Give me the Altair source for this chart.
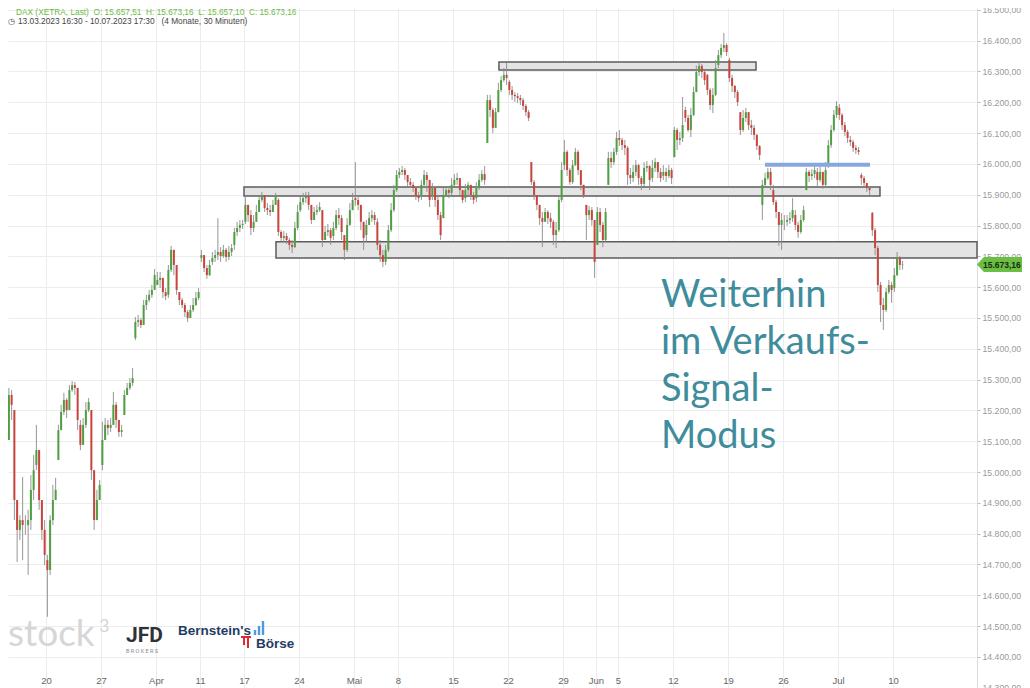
import altair as alt
import pandas as pd

# ---------------- axis values ----------------
tick_days = [5, 10, 15, 19, 23, 28, 33, 37, 42, 47, 52, 55, 57, 62, 67, 72, 77, 82]
tick_labels = ["20", "27", "Apr", "11", "17", "24", "Mai", "8", "15", "22", "29",
               "Jun", "5", "12", "19", "26", "Jul", "10"]
price_ticks = list(range(14300, 16600, 100))

# ---------------- price data (trading-day index 0 = 13.03.2023) ----------------
day_opens = [14990, 15006, 15201, 14828, 15023, 14714, 15039, 15201, 15153, 15201,
             15023, 15153, 15185, 15435, 15542, 15607, 15575, 15584, 15500, 15695,
             15682, 15701, 15737, 15812, 15812, 15857, 15883, 15753, 15850, 15867,
             15850, 15766, 15769, 15889, 15769, 15812, 15721, 15964, 15941, 15896,
             15899, 15824, 15932, 15889, 15889, 16068, 16168, 16266, 16214, 16006,
             15824, 15812, 15996, 15996, 15867, 15737, 15932, 16084, 15964, 15954,
             15954, 15961, 16022, 16175, 16233, 16289, 16321, 16337, 16168, 16126,
             15867, 15915, 15812, 15834, 15915, 15974, 15996, 16182, 16078, 15964,
             15841, 15542, 15597]

closes = [
    [15006],
    [15006, 15104, 15250, 15218], [14909, 14812, 14844, 14828], [14828, 14844, 14942, 15006],
    [15071, 14909, 14812, 14731], [14682, 14844, 14909, 14942], [15136, 15195, 15234, 15201],
    [15266, 15282, 15273, 15169], [15088, 15153, 15201, 15227], [15006, 14844, 14909, 14958],
    [15104, 15153, 15143, 15153], [15218, 15169, 15130, 15136], [15250, 15273, 15289, 15305],
    [15487, 15493, 15477, 15542], [15558, 15575, 15591, 15639], [15623, 15630, 15584, 15571],
    [15656, 15721, 15672, 15591], [15558, 15542, 15519, 15500], [15526, 15542, 15565, 15584],
    [15704, 15662, 15639, 15672], [15695, 15704, 15714, 15701], [15721, 15698, 15714, 15727],
    [15779, 15792, 15802, 15805], [15867, 15834, 15792, 15812], [15844, 15883, 15899, 15857],
    [15850, 15844, 15867, 15896], [15779, 15760, 15766, 15753], [15737, 15730, 15792, 15844],
    [15876, 15889, 15896, 15867], [15818, 15844, 15850, 15860], [15753, 15779, 15785, 15760],
    [15792, 15834, 15824, 15779], [15721, 15802, 15850, 15883], [15883, 15867, 15812, 15760],
    [15802, 15824, 15834, 15818], [15737, 15704, 15682, 15721], [15785, 15850, 15915, 15964],
    [15974, 15980, 15964, 15941], [15932, 15922, 15896, 15889], [15932, 15964, 15948, 15883],
    [15922, 15883, 15834, 15769], [15899, 15915, 15906, 15932], [15948, 15954, 15915, 15883],
    [15915, 15932, 15899, 15883], [15922, 15948, 15967, 15948], [16207, 16175, 16117, 16168],
    [16240, 16272, 16289, 16279], [16240, 16224, 16220, 16214], [16207, 16188, 16168, 16149],
    [15941, 15899, 15867, 15824], [15812, 15844, 15824, 15812], [15769, 15785, 15883, 15980],
    [16039, 15980, 15941, 15996], [16039, 15980, 15932, 15899], [15834, 15850, 15818, 15682],
    [15844, 15802, 15753, 15844], [16019, 16006, 16039, 16084], [16078, 16061, 16052, 15964],
    [15954, 15974, 15996, 15954], [15935, 15987, 15993, 15948], [15987, 16006, 15974, 15954],
    [15974, 15961, 15980, 15954], [16110, 16078, 16084, 16126], [16149, 16110, 16159, 16233],
    [16298, 16318, 16298, 16272], [16240, 16191, 16224, 16311], [16353, 16376, 16386, 16363],
    [16279, 16253, 16233, 16201], [16110, 16149, 16168, 16126], [16117, 16094, 16058, 16029],
    [15932, 15954, 15974, 15932], [15876, 15844, 15802, 15818], [15812, 15818, 15824, 15850],
    [15802, 15779, 15818, 15850], [15974, 15961, 15967, 15980], [15948, 15974, 15932, 15980],
    [16061, 16110, 16159, 16188], [16159, 16126, 16104, 16084], [16071, 16052, 16045, 16039],
    [15954, 15938, 15922, 15915], [15785, 15727, 15607, 15542], [15526, 15584, 15607, 15591],
    [15639, 15695, 15672, 15673.16],
]

highs = [
    [15023],
    [15055, 15120, 15273, 15266], [15201, 14877, 14860, 14984], [14860, 14877, 14990, 15055],
    [15153, 15071, 14909, 14844], [14731, 14860, 14958, 14981], [15153, 15218, 15257, 15240],
    [15282, 15295, 15292, 15266], [15169, 15175, 15227, 15240], [15201, 14942, 14942, 14974],
    [15163, 15175, 15169, 15175], [15260, 15227, 15163, 15153], [15266, 15289, 15305, 15338],
    [15503, 15510, 15500, 15558], [15575, 15591, 15607, 15659], [15649, 15649, 15623, 15597],
    [15672, 15734, 15721, 15672], [15584, 15565, 15549, 15526], [15542, 15565, 15584, 15597],
    [15721, 15704, 15672, 15688], [15714, 15721, 15824, 15730], [15737, 15727, 15734, 15740],
    [15792, 15812, 15818, 15818], [15893, 15867, 15850, 15834], [15867, 15896, 15909, 15899],
    [15873, 15867, 15883, 15906], [15889, 15785, 15782, 15776], [15760, 15753, 15812, 15867],
    [15893, 15906, 15909, 15909], [15867, 15860, 15867, 15876], [15844, 15799, 15805, 15792],
    [15812, 15850, 15857, 15834], [15769, 15824, 15873, 15906], [16006, 15893, 15867, 15802],
    [15818, 15844, 15850, 15844], [15824, 15753, 15721, 15737], [15802, 15873, 15932, 15980],
    [15987, 15993, 15987, 15964], [15954, 15941, 15922, 15909], [15948, 15980, 15974, 15948],
    [15938, 15928, 15899, 15844], [15922, 15928, 15925, 15954], [15967, 15971, 15954, 15915],
    [15935, 15941, 15932, 15909], [15941, 15967, 15980, 15993], [16224, 16224, 16182, 16182],
    [16263, 16285, 16311, 16328], [16272, 16253, 16233, 16230], [16224, 16214, 16194, 16175],
    [16006, 15948, 15899, 15867], [15844, 15857, 15850, 15841], [15818, 15812, 15896, 16006],
    [16078, 16045, 15987, 16013], [16052, 16045, 15980, 15932], [15867, 15864, 15860, 15812],
    [15860, 15857, 15812, 15857], [16039, 16039, 16052, 16104], [16110, 16084, 16078, 16058],
    [15987, 15996, 16013, 16000], [15961, 16006, 16009, 15996], [16013, 16019, 16006, 15987],
    [15996, 15987, 15996, 15987], [16120, 16117, 16104, 16217], [16185, 16159, 16182, 16250],
    [16319, 16334, 16324, 16305], [16292, 16246, 16246, 16337], [16370, 16389, 16425, 16392],
    [16344, 16289, 16256, 16240], [16168, 16175, 16182, 16168], [16143, 16126, 16097, 16061],
    [15948, 15971, 15987, 15987], [15932, 15883, 15844, 15841], [15834, 15834, 15844, 15889],
    [15850, 15812, 15834, 15864], [15987, 15980, 15983, 15993], [15987, 15993, 15974, 16006],
    [16078, 16126, 16175, 16204], [16194, 16165, 16136, 16110], [16091, 16078, 16061, 16055],
    [15971, 15961, 15938, 15928], [15844, 15792, 15734, 15617], [15565, 15597, 15623, 15617],
    [15662, 15714, 15701, 15685],
]

lows = [
    [14974],
    [14958, 15006, 15104, 15169], [14844, 14708, 14779, 14714], [14796, 14666, 14812, 14909],
    [15006, 14877, 14779, 14698], [14530, 14666, 14828, 14909], [15039, 15153, 15185, 15175],
    [15218, 15260, 15250, 15136], [15071, 15104, 15143, 15195], [14974, 14812, 14860, 14909],
    [15006, 15104, 15120, 15130], [15153, 15143, 15114, 15114], [15185, 15250, 15266, 15279],
    [15428, 15471, 15467, 15477], [15526, 15552, 15565, 15591], [15607, 15597, 15565, 15558],
    [15565, 15649, 15639, 15575], [15542, 15532, 15503, 15487], [15500, 15519, 15539, 15558],
    [15682, 15649, 15627, 15636], [15672, 15682, 15688, 15682], [15695, 15682, 15688, 15701],
    [15721, 15766, 15779, 15789], [15805, 15812, 15769, 15779], [15812, 15850, 15876, 15844],
    [15834, 15831, 15844, 15867], [15766, 15747, 15747, 15740], [15721, 15711, 15727, 15785],
    [15844, 15867, 15873, 15850], [15805, 15818, 15834, 15844], [15730, 15753, 15766, 15737],
    [15753, 15785, 15802, 15753], [15688, 15714, 15799, 15850], [15864, 15850, 15785, 15721],
    [15747, 15802, 15812, 15802], [15721, 15682, 15665, 15672], [15714, 15779, 15844, 15909],
    [15954, 15964, 15948, 15928], [15922, 15909, 15883, 15876], [15883, 15928, 15909, 15860],
    [15883, 15860, 15818, 15753], [15824, 15893, 15889, 15899], [15928, 15932, 15899, 15873],
    [15876, 15899, 15883, 15870], [15876, 15915, 15941, 15932], [16068, 16152, 16100, 16117],
    [16168, 16233, 16266, 16256], [16224, 16207, 16201, 16198], [16191, 16175, 16155, 16139],
    [15932, 15883, 15850, 15802], [15730, 15812, 15805, 15792], [15737, 15727, 15779, 15876],
    [15980, 15961, 15932, 15935], [15993, 15964, 15915, 15889], [15753, 15818, 15799, 15630],
    [15737, 15779, 15730, 15747], [15932, 15987, 15996, 16029], [16058, 16045, 16029, 15932],
    [15935, 15941, 15961, 15932], [15915, 15928, 15974, 15915], [15941, 15974, 15954, 15941],
    [15948, 15941, 15954, 15935], [16022, 16045, 16061, 16071], [16136, 16104, 16087, 16155],
    [16233, 16285, 16279, 16256], [16224, 16175, 16165, 16220], [16311, 16344, 16363, 16350],
    [16266, 16233, 16214, 16188], [16094, 16104, 16136, 16110], [16094, 16078, 16045, 16013],
    [15818, 15922, 15948, 15915], [15867, 15824, 15734, 15721], [15785, 15799, 15805, 15812],
    [15785, 15760, 15773, 15812], [15915, 15941, 15948, 15954], [15928, 15941, 15919, 15922],
    [15987, 16052, 16104, 16149], [16143, 16110, 16091, 16068], [16058, 16039, 16032, 16029],
    [15932, 15922, 15909, 15899], [15766, 15704, 15584, 15487], [15461, 15519, 15578, 15549],
    [15584, 15636, 15656, 15657],
]

# ---------------- drawn annotations (in data units) ----------------
box_t1 = [46.18, 23.0, 25.91]
box_t2 = [69.55, 80.82, 89.64]
box_top = [16331, 15925, 15747]
box_bottom = [16305, 15896, 15695]
signal_t = [70.36, 79.91]
signal_price = 15997
last_price = 15673.16

X_DOMAIN = [1.545, 89.64]
Y_DOMAIN = [14299, 16506]
W, H = 969, 680

# ---------------- build tables ----------------
rows = []
for d in range(len(day_opens)):
    n = len(closes[d])
    prev = day_opens[d]
    for k in range(n):
        t = 0.94 if d == 0 else d + (k + 0.5) / n
        c = closes[d][k]
        h = max(highs[d][k], prev, c)
        lo = min(lows[d][k], prev, c)
        rows.append({"t": t, "open": prev, "close": c, "high": h, "low": lo,
                     "dir": "up" if c >= prev else "down"})
        prev = c
candles = pd.DataFrame(rows)

boxes = pd.DataFrame({"t1": box_t1, "t2": box_t2, "top": box_top, "bottom": box_bottom})
signal = pd.DataFrame({"t1": [signal_t[0]], "t2": [signal_t[1]], "p": [signal_price]})


def de(v):
    s = f"{v:,.2f}"
    return s.replace(",", "#").replace(".", ",").replace("#", ".")


tag = pd.DataFrame({"p": [last_price], "label": [de(last_price)]})

x_expr = " : ".join(f"datum.value == {d} ? '{l}'" for d, l in zip(tick_days, tick_labels)) + " : ''"
y_expr = ("replace(replace(replace(format(datum.value, ',.2f'), ',', '#'), '.', ','), '#', '.')")

xs = alt.Scale(domain=X_DOMAIN, nice=False, zero=False)
ys = alt.Scale(domain=Y_DOMAIN, nice=False, zero=False)

x_axis = alt.Axis(values=tick_days, labelExpr=x_expr, grid=True, gridColor="#ececec",
                  domain=False, ticks=False, tickSize=0, labelPadding=-13,
                  labelColor="#666666", labelFontSize=9.5, labelFont="Liberation Sans",
                  labelFlush=False, labelOverlap=False, title=None)
y_axis = alt.Axis(orient="right", values=price_ticks, labelExpr=y_expr, grid=True,
                  gridColor="#ececec", domainColor="#dcdcdc", tickColor="#b8b8b8",
                  tickSize=3, labelPadding=2, labelColor="#9a9a9a", labelFontSize=8.7,
                  labelFont="Liberation Sans", labelOverlap=False, title=None)


def X(field):
    return alt.X(field, scale=xs, axis=x_axis, title=None)


def Y(field):
    return alt.Y(field, scale=ys, axis=y_axis, title=None)


box_layer = alt.Chart(boxes).mark_rect(fill="#e4e4e4", stroke="#5c5c5c", strokeWidth=1.5).encode(
    x=X("t1:Q"), x2="t2:Q", y=Y("top:Q"), y2="bottom:Q")

wicks = alt.Chart(candles).mark_rule(strokeWidth=0.9, color="#8a8a8a", clip=True).encode(
    x=X("t:Q"), y=Y("low:Q"), y2="high:Q")

bodies = alt.Chart(candles).mark_rule(strokeWidth=2.0, clip=True).encode(
    x=X("t:Q"), y=Y("open:Q"), y2="close:Q",
    color=alt.Color("dir:N", scale=alt.Scale(domain=["up", "down"], range=["#4f9e42", "#c9453c"]),
                    legend=None),
)

signal_layer = alt.Chart(signal).mark_rule(strokeWidth=4, color="#87a7df").encode(
    x=X("t1:Q"), x2="t2:Q", y=Y("p:Q"))

tag_shape = alt.Chart(tag).mark_point(
    shape="M -1 0 L -0.74 -0.283 L 1 -0.283 L 1 0.283 L -0.74 0.283 Z",
    size=2809, filled=True, color="#6cbe45", opacity=1, strokeWidth=0,
).encode(x=alt.value(995.5), y=Y("p:Q"))

tag_text = alt.Chart(tag).mark_text(align="left", baseline="middle", fontSize=8.5,
                                    fontWeight="bold", font="Liberation Sans",
                                    color="#15300d").encode(
    x=alt.value(975), y=Y("p:Q"), text="label:N")


def label(text, x, y, size, color, font="Liberation Sans", weight="normal",
          align="left", baseline="alphabetic"):
    return alt.Chart(alt.Data(values=[{"s": text}])).mark_text(
        align=align, baseline=baseline, font=font, fontSize=size, fontWeight=weight,
        color=color).encode(x=alt.value(x), y=alt.value(y), text="s:N")


def stroke(x, y, x2, y2, color, width):
    return alt.Chart(alt.Data(values=[{"k": 1}])).mark_rule(color=color, strokeWidth=width).encode(
        x=alt.value(x), y=alt.value(y), x2=alt.value(x2), y2=alt.value(y2))


nb = "\u00a0"
header1 = label(f"DAX (XETRA, Last){nb}{nb}O: 15.657,51{nb}{nb}H: 15.673,16{nb}{nb}"
                f"L: 15.657,10{nb}{nb}C: 15.673,16", 8, 4.5, 8.3, "#6dbb47", baseline="middle")
header2 = label(f"13.03.2023 16:30 - 10.07.2023 17:30{nb}{nb}{nb}(4 Monate, 30 Minuten)",
                10, 14, 8.3, "#444444", baseline="middle")
clock = label("\u25F7", 0, 14, 8, "#444444", font="DejaVu Sans", baseline="middle")

signal_text = [
    label("Weiterhin", 653, 299, 38, "#3e8c9c", font="Lato"),
    label("im Verkaufs-", 653, 346, 38, "#3e8c9c", font="Lato"),
    label("Signal-", 653, 393, 38, "#3e8c9c", font="Lato"),
    label("Modus", 653, 440, 38, "#3e8c9c", font="Lato"),
]

logos = [
    label("stock", 0, 638, 37, "#d6d6d6", font="Lato"),
    label("3", 91, 624, 18, "#d6d6d6", font="Lato"),
    label("JFD", 118, 634, 21, "#2f3337", font="Roboto", weight="bold"),
    label("B R O K E R S", 118, 643, 5.5, "#8a8a8a", font="Roboto", baseline="middle"),
    label("Bernstein's", 170, 627, 13.5, "#1f3d63", weight="bold"),
    label("Börse", 248, 640, 13.5, "#1f3d63", weight="bold"),
    # Bernstein's bar icon
    stroke(247, 622, 247, 627, "#4a9be0", 2.4),
    stroke(251, 618, 251, 627, "#4a9be0", 2.4),
    stroke(255, 613, 255, 627, "#4a9be0", 2.4),
    # red chart mark in front of "Börse"
    stroke(233, 629, 243, 629, "#e2282e", 2),
    stroke(236, 629, 236, 637, "#e2282e", 2),
    stroke(240, 629, 240, 640, "#e2282e", 2),
]

chart = alt.layer(
    box_layer, wicks, bodies, signal_layer, tag_shape, tag_text,
    header1, header2, clock, *signal_text, *logos,
).properties(
    width=W, height=H,
    autosize=alt.AutoSizeParams(type="none"),
    padding={"left": 0, "top": 0, "right": 45, "bottom": 0},
    background="white",
).configure_view(stroke=None)

chart.save("out.html", embed_options={"renderer": "svg", "actions": False})
